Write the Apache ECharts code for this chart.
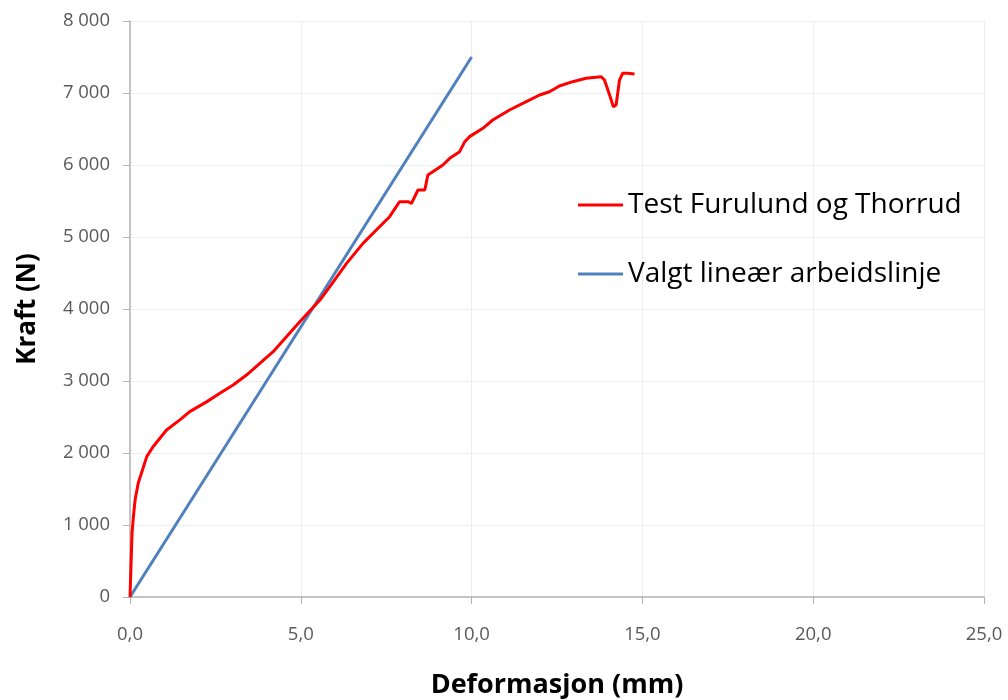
<!DOCTYPE html>
<html><head><meta charset="utf-8">
<script src="https://cdn.jsdelivr.net/npm/echarts@6/dist/echarts.min.js"></script>
<style>html,body{margin:0;padding:0;background:#fff;overflow:hidden}#c{width:1008px;height:700px}</style>
</head><body><div id="c"></div>
<script>
const testX = [0.0,0.03,0.06,0.1,0.15,0.24,0.49,0.68,1.07,1.46,1.75,2.24,2.63,3.02,3.41,3.8,4.19,4.58,4.97,5.56,5.85,6.34,6.82,7.21,7.6,7.89,8.14,8.24,8.43,8.63,8.72,9.16,9.36,9.65,9.8,9.94,10.33,10.62,11.11,11.6,11.99,12.28,12.57,12.96,13.35,13.79,13.89,14.04,14.15,14.23,14.33,14.42,14.57,14.77];
const testY = [0,0,890,1115,1350,1580,1950,2090,2320,2460,2575,2710,2830,2945,3083,3245,3407,3615,3824,4125,4310,4634,4912,5097,5282,5490,5490,5468,5653,5653,5861,6000,6093,6185,6324,6394,6510,6625,6764,6880,6972,7018,7097,7157,7204,7227,7180,6972,6810,6833,7180,7273,7273,7264];
const lineX = [0, 10];
const lineY = [0, 7500];
const seriesNames = ['Test Furulund og Thorrud', 'Valgt lineær arbeidslinje'];

const chart = echarts.init(document.getElementById('c'));
const fmtY = v => v >= 1000 ? Math.floor(v/1000) + ' ' + String(v%1000).padStart(3,'0') : String(v);
chart.setOption({
  animation: false,
  grid: {left: 130, right: 24, top: 21, bottom: 103, containLabel: false, outerBoundsMode: 'none'},
  legend: {
    orient: 'vertical', left: 578, top: 191, itemGap: 41, padding: 0,
    itemWidth: 45, itemHeight: 3,
    icon: 'rect',
    textStyle: {fontFamily: 'Open Sans', fontSize: 28, color: '#000'},
    data: seriesNames
  },
  xAxis: {
    type: 'value', min: 0, max: 25, interval: 5,
    name: 'Deformasjon (mm)', nameLocation: 'middle', nameGap: 75,
    nameTextStyle: {fontFamily: 'Open Sans', fontWeight: 'bold', fontSize: 27, color: '#000'},
    axisLine: {show: true, lineStyle: {color: '#b3b3b3', width: 1.5}},
    axisTick: {show: true, length: 7, lineStyle: {color: '#b3b3b3'}},
    axisLabel: {formatter: v => v.toFixed(1).replace('.', ','), fontFamily: 'Open Sans', fontSize: 18.5, color: '#595959', margin: 28},
    splitLine: {show: true, lineStyle: {color: '#eeeeee'}}
  },
  yAxis: {
    type: 'value', min: 0, max: 8000, interval: 1000,
    name: 'Kraft (N)', nameLocation: 'middle', nameGap: 89, nameRotate: 90,
    nameTextStyle: {fontFamily: 'Open Sans', fontWeight: 'bold', fontSize: 26, color: '#000'},
    axisLine: {show: true, lineStyle: {color: '#b3b3b3', width: 1.5}},
    axisTick: {show: true, length: 7, lineStyle: {color: '#b3b3b3'}},
    axisLabel: {formatter: fmtY, fontFamily: 'Open Sans', fontSize: 18.5, color: '#595959', margin: 20},
    splitLine: {show: true, lineStyle: {color: '#eeeeee'}}
  },
  series: [
    {name: seriesNames[0], type: 'line', showSymbol: false, symbol: 'none',
     data: testX.map((x,i) => [x, testY[i]]),
     lineStyle: {color: '#ff0000', width: 3}, itemStyle: {color: '#ff0000'}, z: 3},
    {name: seriesNames[1], type: 'line', showSymbol: false, symbol: 'none',
     data: lineX.map((x,i) => [x, lineY[i]]),
     lineStyle: {color: '#4f81bd', width: 3}, itemStyle: {color: '#4f81bd'}, z: 2}
  ]
});
</script></body></html>
